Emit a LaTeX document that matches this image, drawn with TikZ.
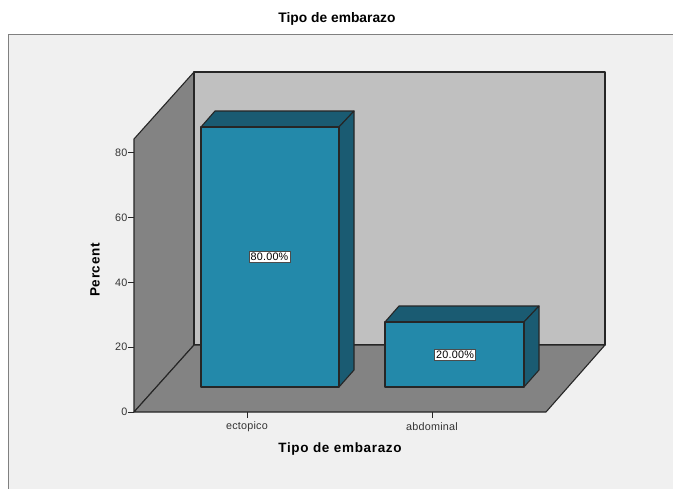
\documentclass[tikz,border=0pt]{standalone}
\usepackage{fontspec}
\setmainfont{Liberation Sans}
\begin{document}
\begin{tikzpicture}[x=1pt,y=-1pt,
  edge/.style={draw=black!85,line width=1.1pt,line join=round},
  frontface/.style={fill=barfront,edge},
  darkface/.style={fill=bardark,edge},
  ticklab/.style={font=\addfontfeature{LetterSpace=2}\fontsize{10.8}{12}\selectfont,text=black!80,inner sep=0pt},
  datalab/.style={draw=black!70,fill=white,line width=0.6pt,inner sep=1.8pt,font=\addfontfeature{LetterSpace=2}\fontsize{10.8}{12}\selectfont},
  tickline/.style={draw=black!85,line width=0.9pt},
  boldtitle/.style={font=\bfseries\fontsize{13.8}{15}\selectfont,inner sep=0pt},
  axistitle/.style={font=\bfseries\addfontfeature{LetterSpace=5}\fontsize{13.5}{15}\selectfont,inner sep=0pt}]
\definecolor{barfront}{HTML}{2389AA}
\definecolor{bardark}{HTML}{1A5B72}
\definecolor{wallgray}{HTML}{838383}
\definecolor{backgray}{HTML}{C0C0C0}
\definecolor{panel}{HTML}{F0F0F0}
\useasboundingbox (0,0) rectangle (673,488);
\clip (0,0) rectangle (673,488);
\fill[white] (0,0) rectangle (673,488);
% outer panel
\draw[fill=panel,draw=black!50,line width=1pt] (8.5,34) rectangle (690,500);
% title
\node[boldtitle] (title) at (337,19) {Tipo de embarazo};
% walls
\draw[fill=wallgray,edge] (134,412) -- (134,139) -- (194,72) -- (194,345) -- cycle;
\draw[fill=backgray,edge] (194,72) rectangle (605,345);
\draw[fill=wallgray,edge] (134,412) -- (546,412) -- (605,345) -- (194,345) -- cycle;
% bar 1
\draw[darkface] (201,127) -- (215,111) -- (354,111) -- (339,127) -- cycle;
\draw[darkface] (339,127) -- (354,111) -- (354,370) -- (339,387) -- cycle;
\draw[frontface] (201,127) rectangle (339,387);
% bar 2
\draw[darkface] (385,322) -- (399,306) -- (539,306) -- (524,322) -- cycle;
\draw[darkface] (524,322) -- (539,306) -- (539,370) -- (524,387) -- cycle;
\draw[frontface] (385,322) rectangle (524,387);
% data labels
\node[datalab] (lab1) at (269.5,257) {80.00\%};
\node[datalab] (lab2) at (455,354.5) {20.00\%};
% y ticks
\foreach \v/\yy in {0/412,20/347,40/282.5,60/217.5,80/152.5}{
  \coordinate (ya\v) at (128,\yy);
  \coordinate (yb\v) at (134,\yy);
  \draw[tickline] (ya\v) -- (yb\v);
  \node[ticklab,anchor=east] (yl\v) at (127.5,\yy) {\v};
}
% x ticks
\coordinate (xa1) at (247,412); \coordinate (xb1) at (247,418);
\coordinate (xa2) at (432,412); \coordinate (xb2) at (432,418);
\draw[tickline] (xa1) -- (xb1);
\draw[tickline] (xa2) -- (xb2);
\node[ticklab] (xl1) at (247,427) {ectopico};
\node[ticklab] (xl2) at (432,427) {abdominal};
% axis titles
\node[axistitle] (xt) at (340,449) {Tipo de embarazo};
\node[axistitle,rotate=90] (yt) at (95,270) {Percent};
\end{tikzpicture}
\end{document}
